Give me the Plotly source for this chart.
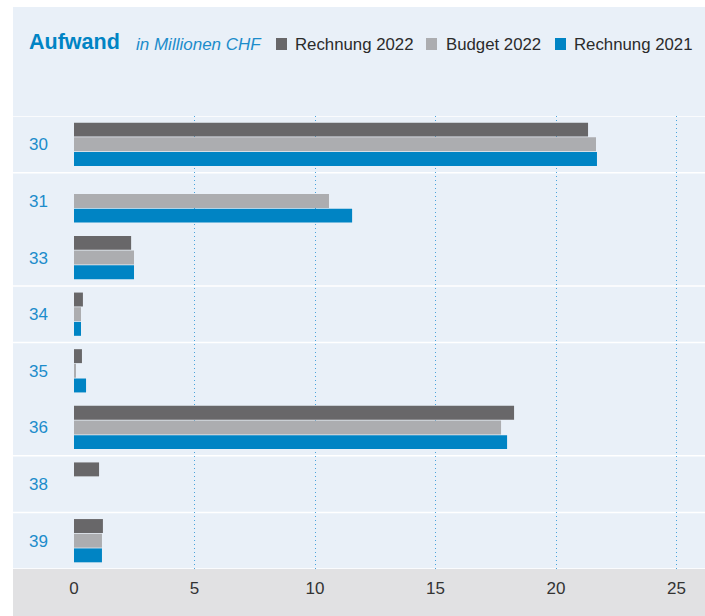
import plotly.graph_objects as go

categories = ["30", "31", "33", "34", "35", "36", "38", "39"]
rechnung_2022 = [21.33, None, 2.37, 0.37, 0.33, 18.26, 1.04, 1.20]
budget_2022 = [21.66, 10.58, 2.49, 0.29, 0.08, 17.72, None, 1.16]
rechnung_2021 = [21.70, 11.54, 2.49, 0.29, 0.50, 17.97, None, 1.16]
x_ticks = [0, 5, 10, 15, 20, 25]
separators_after = [-0.5, 0.5, 2.5, 3.5, 5.5, 6.5, 7.5]

C_R22 = "#686769"
C_B22 = "#ACADB0"
C_R21 = "#0084C4"
BG = "#E9F0F8"
BAND = "#E1E1E3"
BLUE_TXT = "#1C8CCB"
FONT = "Liberation Sans, Arial, sans-serif"

W, H = 705, 616
ML, MR, MT, MB = 49, 0, 116, 47
PW, PH = W - ML - MR, H - MT - MB


def px_x(p):
    return (p - ML) / PW


def px_y(p):
    return (H - MB - p) / PH


fig = go.Figure()
for name, vals, col in [("Rechnung 2022", rechnung_2022, C_R22),
                        ("Budget 2022", budget_2022, C_B22),
                        ("Rechnung 2021", rechnung_2021, C_R21)]:
    fig.add_trace(go.Bar(y=categories, x=vals, name=name, orientation="h",
                         marker=dict(color=col, line=dict(width=0)),
                         hoverinfo="x+name"))

shapes = [
    dict(type="rect", xref="paper", yref="paper", x0=px_x(13), x1=1, y0=px_y(616), y1=px_y(7),
         fillcolor=BG, line=dict(width=0), layer="below"),
    dict(type="rect", xref="paper", yref="paper", x0=px_x(13), x1=1, y0=px_y(616), y1=0,
         fillcolor=BAND, line=dict(width=0), layer="below"),
]
for s in separators_after:
    shapes.append(dict(type="line", xref="paper", yref="y", x0=px_x(13), x1=1, y0=s, y1=s,
                       line=dict(color="white", width=1.5), layer="between"))

# legend squares
for (x0, x1), col in [((276, 287), C_R22), ((426, 437), C_B22), ((555, 566), C_R21)]:
    shapes.append(dict(type="rect", xref="paper", yref="paper", x0=px_x(x0), x1=px_x(x1),
                       y0=px_y(50), y1=px_y(38), fillcolor=col, line=dict(width=0)))

annotations = [
    dict(text="<b>Aufwand</b>", x=px_x(27), y=px_y(42), xref="paper", yref="paper",
         xanchor="left", yanchor="middle", showarrow=False,
         font=dict(family=FONT, size=21.5, color=C_R21)),
    dict(text="<i>in Millionen CHF</i>", x=px_x(134), y=px_y(44), xref="paper", yref="paper",
         xanchor="left", yanchor="middle", showarrow=False,
         font=dict(family=FONT, size=17, color=BLUE_TXT)),
]
for x, t in [(293, "Rechnung 2022"), (444, "Budget 2022"), (572, "Rechnung 2021")]:
    annotations.append(dict(text=t, x=px_x(x), y=px_y(44), xref="paper", yref="paper",
                            xanchor="left", yanchor="middle", showarrow=False,
                            font=dict(family=FONT, size=16.8, color="#2B2B2B")))

fig.update_layout(
    width=W, height=H,
    margin=dict(l=ML, r=MR, t=MT, b=MB, pad=0),
    paper_bgcolor="white", plot_bgcolor="rgba(0,0,0,0)",
    barmode="group", bargap=0.223, bargroupgap=0.05,
    showlegend=False,
    shapes=shapes, annotations=annotations,
    xaxis=dict(range=[(ML - 74) / 24.1, (705 - 74) / 24.1], tickvals=x_ticks,
               showgrid=True, gridcolor="#4AA3DB", griddash="1px,3px", gridwidth=1.2,
               zeroline=True, zerolinecolor="rgba(0,0,0,0)", zerolinewidth=0.01,
               showline=False, ticks="outside", ticklen=4, tickcolor="rgba(0,0,0,0)",
               tickfont=dict(family=FONT, size=17, color="#333333"), fixedrange=True),
    yaxis=dict(type="category", categoryorder="array", categoryarray=categories,
               range=[7.5, -0.5], showgrid=False, zeroline=False, showline=False,
               ticks="", tickfont=dict(family=FONT, size=17, color=BLUE_TXT),
               fixedrange=True),
)

fig.write_html("out.html")
